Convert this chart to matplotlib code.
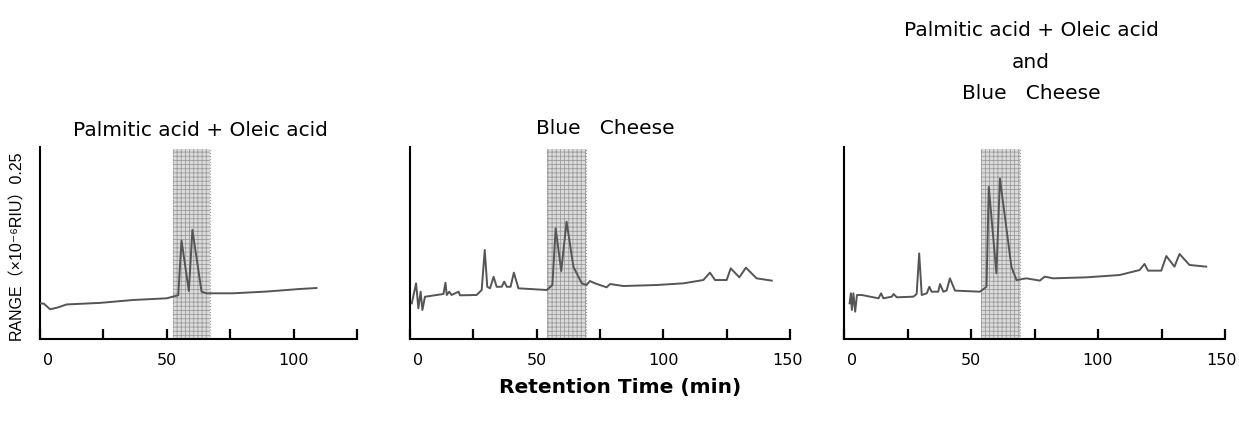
import matplotlib
matplotlib.use("Agg")
import matplotlib.pyplot as plt
import matplotlib.transforms as mtransforms

plt.rcParams["font.family"] = ["DejaVu Sans"]
plt.rcParams["hatch.linewidth"] = 0.6

# retention time (min) / detector response for each run
std_time = [0, 1.5, 4, 7, 10.5, 23.6, 36.7, 50, 54.5, 55.8, 58.7, 60.1, 63.7,
            65.6, 76, 89, 102, 109]
std_resp = [0.0465, 0.046, 0.0387, 0.041, 0.045, 0.047, 0.0508, 0.053, 0.057,
            0.128, 0.0625, 0.142, 0.0617, 0.0595, 0.0595, 0.0617, 0.065, 0.0664]

cheese_time = [0.7, 2.4, 3.3, 4.2, 4.9, 5.9, 10.5, 13.2, 14, 14.5, 15.5, 16.4,
               19.2, 19.7, 26.3, 28.3, 29.5, 30.5, 31.6, 33, 34.2, 36.2, 37.2,
               38.2, 39.7, 41, 42.8, 54, 56.2, 57.5, 59.7, 61.8, 64.5, 67.8,
               69.7, 71, 73, 77.6, 79, 84.2, 97.4, 108, 115.8, 118.4, 120.4,
               125, 126.6, 130, 132.6, 136.8, 142.8]
cheese_resp = [0.0464, 0.0725, 0.040, 0.0616, 0.0378, 0.055, 0.0573, 0.0586,
               0.0733, 0.0573, 0.0616, 0.0573, 0.0616, 0.0569, 0.0573, 0.0638,
               0.1159, 0.068, 0.066, 0.081, 0.068, 0.068, 0.0747, 0.068, 0.068,
               0.0864, 0.066, 0.0638, 0.0703, 0.144, 0.0885, 0.1528, 0.094,
               0.0725, 0.0703, 0.0755, 0.0725, 0.0673, 0.0716, 0.069, 0.0703,
               0.0725, 0.0768, 0.0864, 0.0768, 0.0768, 0.092, 0.0803, 0.0929,
               0.079, 0.076]

mix_time = [2.2, 2.7, 3.1, 3.7, 4.4, 5.1, 7, 10.3, 13.6, 14.6, 15.5, 18.8, 19.5,
            20.8, 27.3, 28.6, 29.6, 30.6, 32.6, 33.6, 34.5, 37.1, 37.8, 39.1,
            40.4, 41.7, 43.7, 53.5, 56.1, 57, 60, 61.4, 65.9, 67.9, 71.8, 77.1,
            79, 82.3, 95.4, 108.5, 116.4, 118.3, 119.7, 124.9, 126.9, 130.1,
            132.1, 136, 142.6]
mix_resp = [0.0464, 0.0595, 0.0378, 0.0595, 0.0356, 0.0573, 0.0573, 0.0551,
            0.053, 0.0595, 0.053, 0.0551, 0.0586, 0.0543, 0.0551, 0.0586,
            0.1115, 0.0573, 0.0595, 0.068, 0.0616, 0.0616, 0.0716, 0.0616,
            0.063, 0.079, 0.063, 0.0616, 0.068, 0.198, 0.0855, 0.209, 0.094,
            0.0768, 0.079, 0.076, 0.0812, 0.079, 0.0803, 0.0833, 0.0898,
            0.0977, 0.089, 0.089, 0.108, 0.0942, 0.1107, 0.0964, 0.0942]

# fatty acid elution window
bands = [(52.5, 67.0), (54.2, 69.5), (54.0, 69.2)]
xmax = [125, 150, 150]
tick_labels = {0: "0", 50: "50", 100: "100", 150: "150"}

W, H = 1239, 430
fig = plt.figure(figsize=(W / 100, H / 100), dpi=100)

boxes = [(40, 357), (410, 790), (844, 1225)]
runs = [(std_time, std_resp), (cheese_time, cheese_resp), (mix_time, mix_resp)]
line_color = "#555555"
nudge = mtransforms.ScaledTranslation(8 / 100, 0, fig.dpi_scale_trans)

for (x0, x1), (t, r), (b0, b1), xm in zip(boxes, runs, bands, xmax):
    ax = fig.add_axes([x0 / W, 1 - 339 / H, (x1 - x0) / W, (339 - 147) / H])
    ax.axvspan(b0, b1, ymin=0, ymax=0.99, facecolor="#dcdcdc",
               edgecolor="#9c9c9c", hatch="++++", linewidth=0, zorder=1)
    for bx in (b0, b1):
        ax.axvline(bx, ymax=0.99, color="#999999", lw=0.8, ls=":", zorder=1)
    ax.plot(t, r, color=line_color, lw=1.4, zorder=3)
    ax.set_xlim(0, xm)
    ax.set_ylim(0, 0.25)
    ticks = list(range(0, xm + 1, 25))
    ax.set_xticks(ticks)
    ax.set_xticklabels([tick_labels.get(v, "") for v in ticks])
    ax.set_yticks([])
    ax.tick_params(axis="x", direction="in", length=7, width=1.6,
                   labelsize=11.5, pad=10)
    # the zero label sits a little right of the axis corner
    zero = ax.get_xticklabels()[0]
    zero.set_transform(zero.get_transform() + nudge)
    last = ax.get_xticklabels()[-1]
    last.set_transform(last.get_transform() + mtransforms.ScaledTranslation(
        -3 / 100, 0, fig.dpi_scale_trans))
    ax.spines["top"].set_visible(False)
    ax.spines["right"].set_visible(False)
    for s in ("left", "bottom"):
        ax.spines[s].set_linewidth(1.5)
    ax.patch.set_alpha(0)

fig.text(200 / W, 1 - 130 / H, "Palmitic acid + Oleic acid", fontsize=14.5,
         ha="center", va="center")
fig.text(605 / W, 1 - 128 / H, "Blue   Cheese", fontsize=14.5,
         ha="center", va="center")
fig.text(1031 / W, 1 - 62 / H, "Palmitic acid + Oleic acid\nand\nBlue   Cheese",
         fontsize=14.5, ha="center", va="center", linespacing=1.85)
fig.text(620 / W, 1 - 388 / H, "Retention Time (min)", fontsize=14.5,
         fontweight="bold", ha="center", va="center")
fig.text(17 / W, 1 - 245 / H, "RANGE（×10⁻⁶RIU）0.25", fontsize=11.5,
         rotation=90, ha="center", va="center",
         family=["Liberation Sans", "Noto Sans CJK JP", "DejaVu Sans"])

fig.savefig("out.png", dpi=100)
